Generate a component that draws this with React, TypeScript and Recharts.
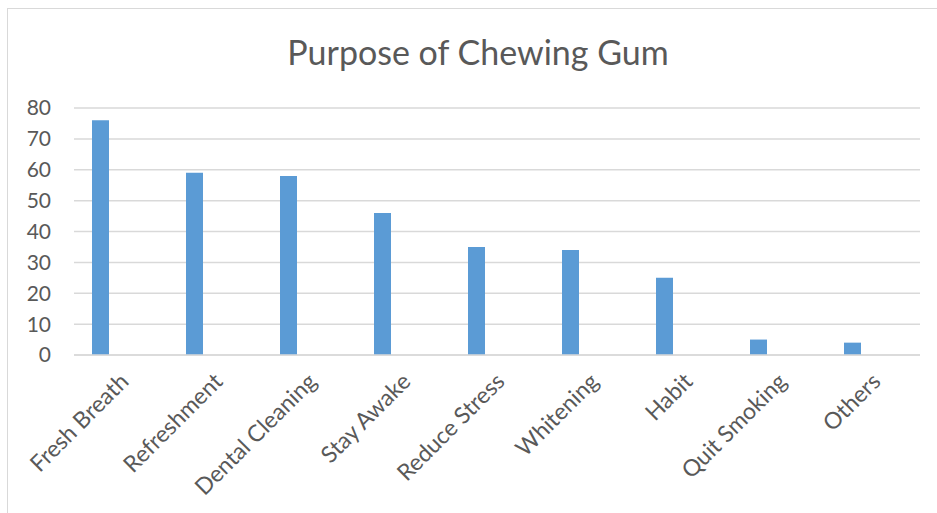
import React from 'react';
import { BarChart, Bar, XAxis, YAxis, CartesianGrid, Rectangle } from 'recharts';

const categories = ['Fresh Breath', 'Refreshment', 'Dental Cleaning', 'Stay Awake', 'Reduce Stress', 'Whitening', 'Habit', 'Quit Smoking', 'Others'];
const counts = [76, 59, 58, 46, 35, 34, 25, 5, 4];
const yTicks = [0, 10, 20, 30, 40, 50, 60, 70, 80];
const title = 'Purpose of Chewing Gum';

const data = categories.map((name, i) => ({ name, value: counts[i] }));

const FONT = 'Lato, "Open Sans", sans-serif';
const TEXT = '#595959';
const BAR_SHIFT = -21;

const ShiftedBar = (props: any) => {
  const { x, y, width, height, fill } = props;
  return <Rectangle x={x + BAR_SHIFT} y={y} width={width} height={height} fill={fill} />;
};

const XTick = (props: any) => {
  const { x, y, payload } = props;
  const ax = x + 9;
  const ay = y + 20;
  return (
    <text
      x={ax}
      y={ay}
      transform={`rotate(-45, ${ax}, ${ay})`}
      textAnchor="end"
      fill={TEXT}
      fontSize={23}
      fontFamily={FONT}
    >
      {payload.value}
    </text>
  );
};

export default function App() {
  return (
    <div style={{ position: 'absolute', left: 0, top: 0, width: 937, height: 513, overflow: 'hidden', background: '#fff' }}>
      <div style={{ position: 'absolute', left: 7, top: 8, width: 1000, height: 600, border: '1px solid #D9D9D9', boxSizing: 'border-box' }} />
      <div style={{ position: 'absolute', left: 0, top: 32, width: 956, textAlign: 'center', fontFamily: FONT, fontSize: 34, color: TEXT, lineHeight: '40px' }}>
        {title}
      </div>
      <div style={{ position: 'absolute', left: 0, top: 0 }}>
        <BarChart width={937} height={513} data={data} margin={{ top: 108, right: 17, bottom: 58, left: 0 }} barSize={17}>
          <CartesianGrid vertical={false} stroke="#D9D9D9" strokeWidth={1.5} />
          <XAxis
            dataKey="name"
            axisLine={{ stroke: '#D9D9D9', strokeWidth: 1.5 }}
            tickLine={false}
            height={100}
            interval={0}
            tick={<XTick />}
          />
          <YAxis
            domain={[0, 80]}
            ticks={yTicks}
            axisLine={false}
            tickLine={false}
            tickSize={0}
            tickMargin={23}
            width={74}
            tick={{ fill: TEXT, fontSize: 21, fontFamily: FONT }}
          />
          <Bar dataKey="value" fill="#5B9BD5" isAnimationActive={false} shape={<ShiftedBar />} />
        </BarChart>
      </div>
    </div>
  );
}
